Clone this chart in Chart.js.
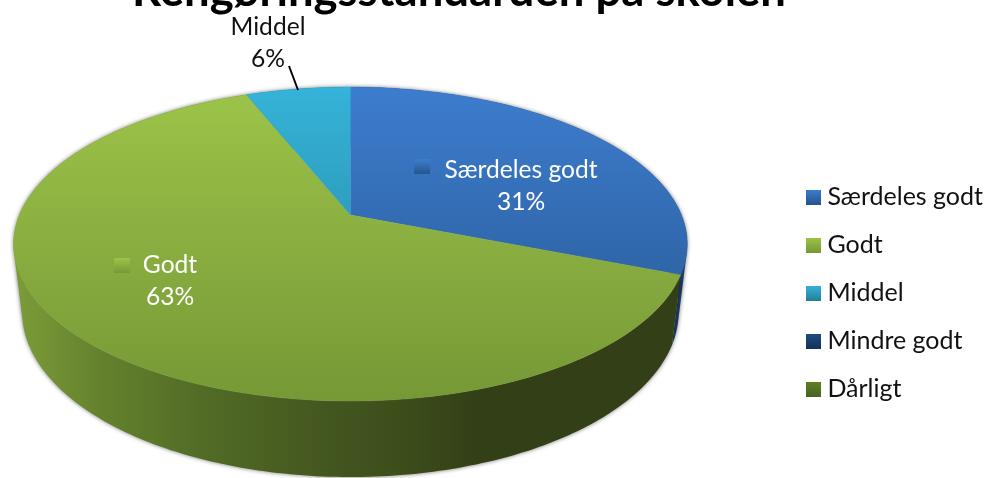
<!DOCTYPE html>
<html><head><meta charset="utf-8">
<style>html,body{margin:0;padding:0;background:#fff;overflow:hidden}canvas{display:block}</style>
<script src="https://cdn.jsdelivr.net/npm/chart.js@4/dist/chart.umd.js"></script>
</head><body><canvas id="c" width="990" height="478"></canvas>
<script>
const categories = ['Særdeles godt','Godt','Middel','Mindre godt','Dårligt'];
const values = [31,63,6,0,0];
const titleText = 'Rengøringsstandarden på skolen';
const faceTop = ['#3d7dce','#9dc449','#35b3d8','#1d4c84','#5f7f28'];
const faceBottom = ['#26558f','#769836','#24809c','#143359','#4a641f'];
const sideColors = ['#1e3d6b','#000','#1f6a80','#12305a','#3a4c18'];
const labelPlaces = [
 {i:0,x:521,y:170,sx:414,sy:159,color:'#fff'},
 {i:1,x:170,y:265,sx:114,sy:258,color:'#fff'},
 {i:2,x:268,y:27,color:'#111'}
];
const P = {cx:350.4,cy:215,a:331,b:151.6,k:0.185,D:68.5,m:0.025};
function proj(ang,h){
  const u=Math.cos(ang),v=Math.sin(ang),d=1-P.k*v+P.m*h;
  return [P.cx+P.a*u/d, P.cy+(P.b*v+P.D*h)/d];
}
const c=document.getElementById('c'),g=c.getContext('2d');
function vgrad(ct,i,y0,y1){const l=ct.createLinearGradient(0,y0,0,y1);l.addColorStop(0,faceTop[i]);l.addColorStop(1,faceBottom[i]);return l;}
const greenSide=[[15,'#7c9c39'],[100,'#64822d'],[200,'#526c25'],[330,'#435620'],[400,'#3d4e1b'],[480,'#333f17'],[690,'#333f17']];
function sideFill(i){
  if(i===1){const l=g.createLinearGradient(0,0,990,0);greenSide.forEach(s=>l.addColorStop(s[0]/990,s[1]));return l;}
  return sideColors[i];
}
function swatch(i){
  const s=document.createElement('canvas');s.width=15;s.height=15;
  const x=s.getContext('2d');x.fillStyle=vgrad(x,i,0,15);x.fillRect(0,0,15,15);return s;
}
const pie3d={id:'pie3d',
 beforeDatasetDraw(chart,args){
  const ctx=chart.ctx,arcs=chart.getDatasetMeta(args.index).data;
  ctx.save();
  arcs.forEach((el,i)=>{
    const s=el.startAngle,e=el.endAngle; if(e-s<=0)return;
    const n=Math.max(2,Math.ceil((e-s)*60));
    ctx.beginPath();
    for(let j=0;j<n;j++){
      const a0=s+(e-s)*j/n,a1=s+(e-s)*(j+1)/n;
      let q=[proj(a0,0),proj(a1,0),proj(a1,1),proj(a0,1)];
      let area=0;q.forEach((p,t)=>{const r=q[(t+1)%4];area+=p[0]*r[1]-r[0]*p[1];});
      if(area<0)q.reverse();
      ctx.moveTo(q[0][0],q[0][1]);for(let t=1;t<4;t++)ctx.lineTo(q[t][0],q[t][1]);ctx.closePath();
    }
    ctx.shadowColor='rgba(0,0,0,0.55)';ctx.shadowBlur=4;
    ctx.fillStyle=sideFill(i);ctx.fill('nonzero');
    ctx.shadowBlur=0;ctx.shadowColor='transparent';
  });
  arcs.forEach((el)=>{
    const s=el.startAngle,e=el.endAngle; if(e-s<=0)return;
    const n=Math.max(2,Math.ceil((e-s)*60));
    ctx.beginPath();ctx.moveTo(P.cx,P.cy);
    for(let j=0;j<=n;j++){const p=proj(s+(e-s)*j/n,0);ctx.lineTo(p[0],p[1]);}
    ctx.closePath();
    ctx.fillStyle=el.options.backgroundColor;ctx.fill();
    ctx.strokeStyle=el.options.backgroundColor;ctx.lineWidth=0.5;ctx.stroke();
  });
  ctx.restore();
  return false;
 },
 afterDatasetsDraw(chart){
  const ctx=chart.ctx,total=values.reduce((a,b)=>a+b,0);
  ctx.save();
  ctx.font='24.6px Lato';ctx.textAlign='center';ctx.textBaseline='middle';
  labelPlaces.forEach(l=>{
    if(l.sx!==undefined){ctx.fillStyle=vgrad(ctx,l.i,l.sy,l.sy+15);ctx.fillRect(l.sx,l.sy,16,15);}
    ctx.fillStyle=l.color;
    ctx.fillText(categories[l.i],l.x,l.y);
    ctx.fillText(Math.round(values[l.i]/total*100)+'%',l.x,l.y+32);
  });
  ctx.strokeStyle='#000';ctx.lineWidth=2;
  ctx.beginPath();ctx.moveTo(289,66);ctx.lineTo(298,90);ctx.stroke();
  ctx.restore();
 }
};
new Chart(c,{type:'pie',plugins:[pie3d],
 data:{labels:categories,datasets:[{data:values,backgroundColor:categories.map((_,i)=>vgrad(g,i,87,401)),borderWidth:0}]},
 options:{responsive:false,animation:false,
  layout:{padding:{left:128,right:-3,top:0,bottom:0}},
  plugins:{
   tooltip:{enabled:false},
   title:{display:true,text:titleText,fullSize:false,color:'#000',
     font:{family:'Lato',size:45.5,weight:'bold',lineHeight:1},
     padding:{top:-31,bottom:94}},
   legend:{position:'right',fullSize:false,align:'center',
     labels:{usePointStyle:true,pointStyleWidth:2,boxHeight:15,padding:23,color:'#111',font:{family:'Lato',size:25,lineHeight:1},
       generateLabels(chart){
         return categories.map((t,i)=>({text:t,pointStyle:swatch(i),fillStyle:'#000',strokeStyle:'transparent',lineWidth:0,fontColor:'#111',index:i,hidden:false}));
       }}}
  }}});
</script></body></html>
